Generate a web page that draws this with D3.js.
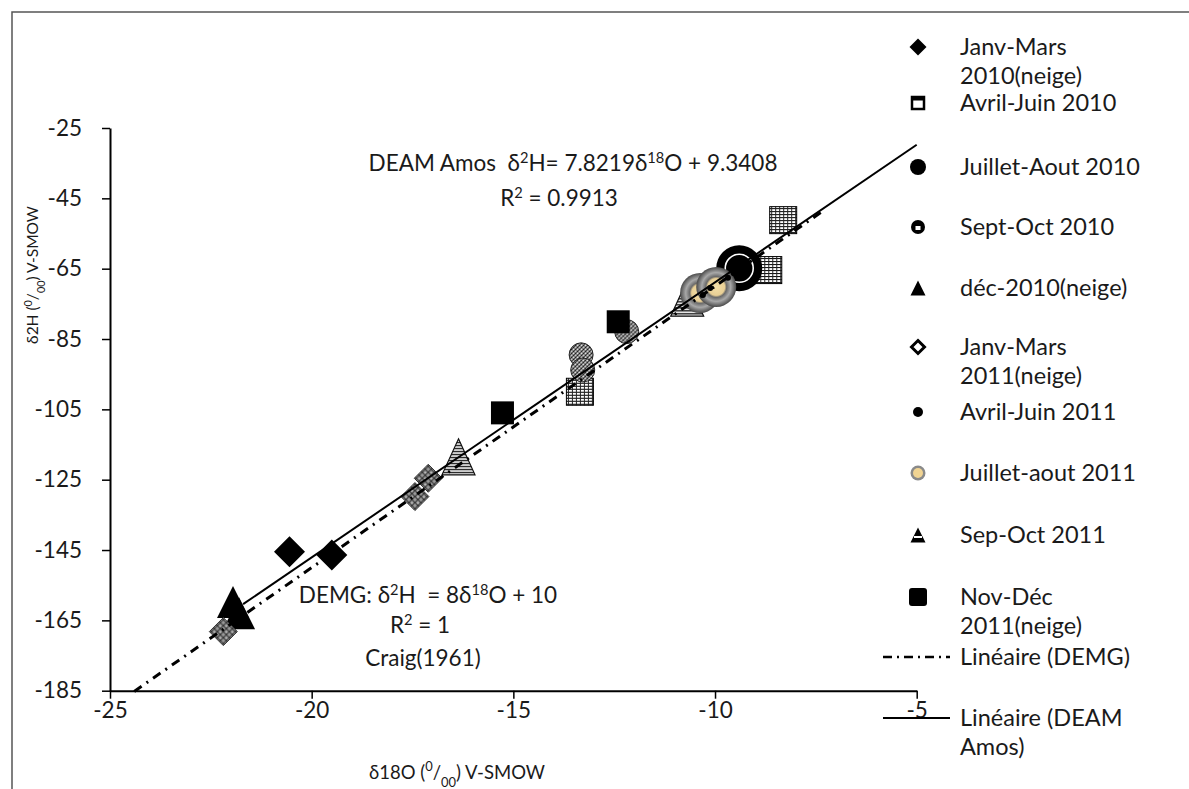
<!DOCTYPE html>
<html><head><meta charset="utf-8">
<script src="https://cdn.jsdelivr.net/npm/d3@7"></script>
<style>body{margin:0;background:#fff} text{font-family:Lato,"Open Sans",sans-serif;fill:#1a1a1a}</style>
</head><body><svg id="c" width="1189" height="789"></svg>
<script>
// ---------- data ----------
const xTicks = [-25, -20, -15, -10, -5];
const yTicks = [-25, -45, -65, -85, -105, -125, -145, -165, -185];

const janvMars2010    = [[-20.55, -145.5], [-19.50, -146.4]];
const avrilJuin2010   = [[-13.35, -100.0], [-8.31, -51.2], [-8.68, -65.4]];
const juilletAout2010 = [[-9.40, -64.9]];
const septOct2010     = [[-13.32, -89.5], [-13.28, -93.8], [-12.19, -82.9]];
const dec2010         = [[-21.95, -159.8], [-21.80, -163.0]];
const janvMars2011    = [[-22.19, -168.2], [-17.11, -124.6], [-17.44, -129.8]];
const juilletAout2011 = [[-10.37, -71.9], [-9.97, -70.2]];
const sepOct2011      = [[-16.36, -118.5], [-10.69, -73.4]];
const avrilJuin2011   = [[-9.68, -67.6], [-10.12, -70.5], [-10.30, -72.5]];
const novDec2011      = [[-15.27, -106.0], [-12.40, -80.1]];

const demgSlope = 8, demgIntercept = 10, demgXRange = [-24.4, -7.3];
const deamSlope = 7.8219, deamIntercept = 9.3408, deamXRange = [-21.7, -5.0];

const legendLabels = [
  ["Janv-Mars", "2010(neige)"], ["Avril-Juin 2010"], ["Juillet-Aout 2010"], ["Sept-Oct 2010"],
  ["déc-2010(neige)"], ["Janv-Mars", "2011(neige)"], ["Avril-Juin 2011"], ["Juillet-aout 2011"],
  ["Sep-Oct 2011"], ["Nov-Déc", "2011(neige)"], ["Linéaire (DEMG)"], ["Linéaire (DEAM", "Amos)"]
];

// ---------- setup ----------
const svg = d3.select("#c");
const x = d3.scaleLinear().domain([-25, -5]).range([110, 916.7]);
const y = d3.scaleLinear().domain([-185, -25]).range([690.7, 128]);

const defs = svg.append("defs");
let p = defs.append("pattern").attr("id", "grid").attr("width", 4).attr("height", 3).attr("patternUnits", "userSpaceOnUse");
p.append("rect").attr("width", 4).attr("height", 3).attr("fill", "#fff");
p.append("rect").attr("width", 4).attr("height", 1).attr("fill", "#000");
p.append("rect").attr("width", 1).attr("height", 3).attr("fill", "#222");
p = defs.append("pattern").attr("id", "dots").attr("width", 4).attr("height", 4).attr("patternUnits", "userSpaceOnUse");
p.append("rect").attr("width", 4).attr("height", 4).attr("fill", "#8a8a8a");
[[0,0,"#000"],[2,2,"#000"],[2,0,"#ddd"],[0,2,"#fff"],[1,3,"#333"],[3,1,"#444"]].forEach(d =>
  p.append("rect").attr("x", d[0]).attr("y", d[1]).attr("width", 1).attr("height", 1).attr("fill", d[2]));
p = defs.append("pattern").attr("id", "cross").attr("width", 6).attr("height", 6).attr("patternUnits", "userSpaceOnUse");
p.append("rect").attr("width", 6).attr("height", 6).attr("fill", "#9a9a9a");
p.append("path").attr("d", "M0,0L6,6M6,0L0,6").attr("stroke", "#333").attr("stroke-width", 1.2);
p.append("rect").attr("x", 2.5).attr("y", 0).attr("width", 1).attr("height", 1).attr("fill", "#eee");
p = defs.append("pattern").attr("id", "stripe").attr("width", 4).attr("height", 3).attr("patternUnits", "userSpaceOnUse");
p.append("rect").attr("width", 4).attr("height", 3).attr("fill", "#f4f4f4");
p.append("rect").attr("width", 4).attr("height", 1.3).attr("fill", "#111");
const rg = defs.append("radialGradient").attr("id", "sph");
[[0,"#f4dfa8"],[0.42,"#e8cf95"],[0.52,"#6a6a6a"],[0.72,"#a8a8a8"],[1,"#4a4a4a"]].forEach(s =>
  rg.append("stop").attr("offset", s[0]).attr("stop-color", s[1]));

// border
svg.append("path").attr("d", "M12,789V12H1189").attr("fill", "none").attr("stroke", "#555").attr("stroke-width", 1.5);

// ---------- axes ----------
const fmt = d => d < 0 ? "-" + Math.abs(d) : String(d);
const gx = svg.append("g").attr("transform", `translate(0,${y(-185)})`)
  .call(d3.axisBottom(x).tickValues(xTicks).tickSize(8).tickSizeOuter(0).tickPadding(3).tickFormat(fmt));
const gy = svg.append("g").attr("transform", `translate(${x(-25)},0)`)
  .call(d3.axisLeft(y).tickValues(yTicks).tickSize(8).tickSizeOuter(0).tickPadding(20).tickFormat(fmt));
[gx, gy].forEach(g => {
  g.select(".domain").attr("stroke", "#000").attr("stroke-width", 2);
  g.selectAll(".tick line").attr("stroke", "#000").attr("stroke-width", 1.5);
  g.selectAll(".tick text").attr("font-size", 22.5).attr("font-family", "Lato, 'Open Sans', sans-serif").attr("fill", "#1a1a1a");
});

function unitTitle(t, pre) {
  t.append("tspan").text(pre + " (");
  t.append("tspan").attr("baseline-shift", "super").attr("font-size", "70%").text("0");
  t.append("tspan").text("/");
  t.append("tspan").attr("baseline-shift", "sub").attr("font-size", "70%").text("00");
  t.append("tspan").text(") V-SMOW");
}
unitTitle(svg.append("text").attr("x", 457).attr("y", 779).attr("text-anchor", "middle").attr("font-size", 18.5), "δ18O");
unitTitle(svg.append("text").attr("transform", "translate(38,275) rotate(-90)").attr("text-anchor", "middle").attr("font-size", 15.5), "δ2H");

// ---------- markers ----------
const diamond = r => `M0,${-r}L${r},0L0,${r}L${-r},0Z`;
const tri = (w, h) => `M0,${-h/2}L${w/2},${h/2}L${-w/2},${h/2}Z`;
function drawSeries(data, fn) {
  data.forEach(d => fn(svg.append("g").attr("transform", `translate(${x(d[0])},${y(d[1])})`)));
}
drawSeries(janvMars2010, g => g.append("path").attr("d", diamond(15.5)).attr("fill", "#000"));
drawSeries(avrilJuin2010, g => g.append("rect").attr("x", -13.5).attr("y", -13.5).attr("width", 27).attr("height", 27).attr("fill", "url(#grid)").attr("stroke", "#000").attr("stroke-width", 1));
drawSeries(juilletAout2010, g => {
  g.append("circle").attr("r", 23).attr("fill", "#000");
  g.append("circle").attr("r", 14).attr("fill", "none").attr("stroke", "#fff").attr("stroke-width", 1.6);
});
drawSeries(septOct2010, g => g.append("circle").attr("r", 12).attr("fill", "url(#dots)").attr("stroke", "#222").attr("stroke-width", 1));
drawSeries(dec2010, g => g.append("path").attr("d", tri(32, 32)).attr("fill", "#000"));
drawSeries(janvMars2011, g => g.append("path").attr("d", diamond(14)).attr("fill", "url(#cross)").attr("stroke", "#333").attr("stroke-width", 1));
drawSeries(sepOct2011, g => g.append("path").attr("d", tri(33, 36)).attr("fill", "url(#stripe)").attr("stroke", "#111").attr("stroke-width", 1.2));
drawSeries(juilletAout2011, g => g.append("circle").attr("r", 20).attr("fill", "url(#sph)"));
drawSeries(avrilJuin2011, g => g.append("circle").attr("r", 3).attr("fill", "#000"));
drawSeries(novDec2011, g => g.append("rect").attr("x", -11.5).attr("y", -11.5).attr("width", 23).attr("height", 23).attr("fill", "#000"));

// ---------- trendlines ----------
const line = d3.line().x(d => x(d[0])).y(d => y(d[1]));
svg.append("path").attr("d", line(deamXRange.map(v => [v, deamSlope * v + deamIntercept])))
  .attr("stroke", "#000").attr("stroke-width", 2).attr("fill", "none");
svg.append("path").attr("d", line(demgXRange.map(v => [v, demgSlope * v + demgIntercept])))
  .attr("stroke", "#000").attr("stroke-width", 3).attr("stroke-dasharray", "9,6,2,6").attr("fill", "none");

// ---------- annotations ----------
function eq(t, parts) {
  parts.forEach(pp => {
    const s = t.append("tspan").text(pp[0]);
    if (pp[1]) s.attr("baseline-shift", "super").attr("font-size", "65%");
  });
}
eq(svg.append("text").attr("x", 573).attr("y", 171).attr("text-anchor", "middle").attr("font-size", 22.5),
  [["DEAM Amos \u00a0δ"], ["2", 1], ["H= 7.8219δ"], ["18", 1], ["O + 9.3408"]]);
eq(svg.append("text").attr("x", 559).attr("y", 206).attr("text-anchor", "middle").attr("font-size", 22.5),
  [["R"], ["2", 1], [" = 0.9913"]]);
eq(svg.append("text").attr("x", 428).attr("y", 603).attr("text-anchor", "middle").attr("font-size", 22.5),
  [["DEMG: δ"], ["2", 1], ["H \u00a0= 8δ"], ["18", 1], ["O + 10"]]);
eq(svg.append("text").attr("x", 420).attr("y", 633).attr("text-anchor", "middle").attr("font-size", 22.5),
  [["R"], ["2", 1], [" = 1"]]);
svg.append("text").attr("x", 423).attr("y", 666).attr("text-anchor", "middle").attr("font-size", 22.5).text("Craig(1961)");

// ---------- legend ----------
const lg = svg.append("g");
const legendMarkers = [
  g => g.append("path").attr("d", diamond(8.5)).attr("fill", "#000"),
  g => { g.append("rect").attr("x", -6).attr("y", -6).attr("width", 12).attr("height", 12).attr("fill", "#fff").attr("stroke", "#000").attr("stroke-width", 2.5);
         g.append("rect").attr("x", -6).attr("y", -6).attr("width", 12).attr("height", 3.5).attr("fill", "#000"); },
  g => g.append("circle").attr("r", 8).attr("fill", "#000"),
  g => { g.append("circle").attr("r", 7).attr("fill", "#000");
         g.append("rect").attr("x", -2.5).attr("y", -1).attr("width", 5).attr("height", 4).attr("fill", "#fff"); },
  g => g.append("path").attr("d", tri(15, 15)).attr("fill", "#000"),
  g => g.append("path").attr("d", diamond(6.5)).attr("fill", "#fff").attr("stroke", "#000").attr("stroke-width", 3),
  g => g.append("circle").attr("r", 5).attr("fill", "#000"),
  g => { g.append("circle").attr("r", 7.5).attr("fill", "#8a8a8a");
         g.append("circle").attr("r", 5).attr("fill", "#f1d493"); },
  g => { g.append("path").attr("d", tri(15, 15)).attr("fill", "#000");
         g.append("rect").attr("x", -4).attr("y", 1).attr("width", 8).attr("height", 2).attr("fill", "#fff"); },
  g => g.append("rect").attr("x", -9).attr("y", -9).attr("width", 18).attr("height", 18).attr("rx", 3).attr("fill", "#000"),
  g => g.append("path").attr("d", "M-35,0H32").attr("stroke", "#000").attr("stroke-width", 2.5).attr("stroke-dasharray", "9,5,2,5"),
  g => g.append("path").attr("d", "M-35,0H32").attr("stroke", "#000").attr("stroke-width", 2)
];
const legendY = [47, 103, 167, 227, 288, 347, 412, 473, 535, 597, 657, 718];
legendLabels.forEach((lines, i) => {
  const g = lg.append("g").attr("transform", `translate(918,${legendY[i]})`);
  legendMarkers[i](g);
  lines.forEach((l, j) => {
    lg.append("text").attr("x", 960).attr("y", legendY[i] + j * 29).attr("dy", "0.35em").attr("font-size", 23.5).text(l);
  });
});
</script></body></html>
